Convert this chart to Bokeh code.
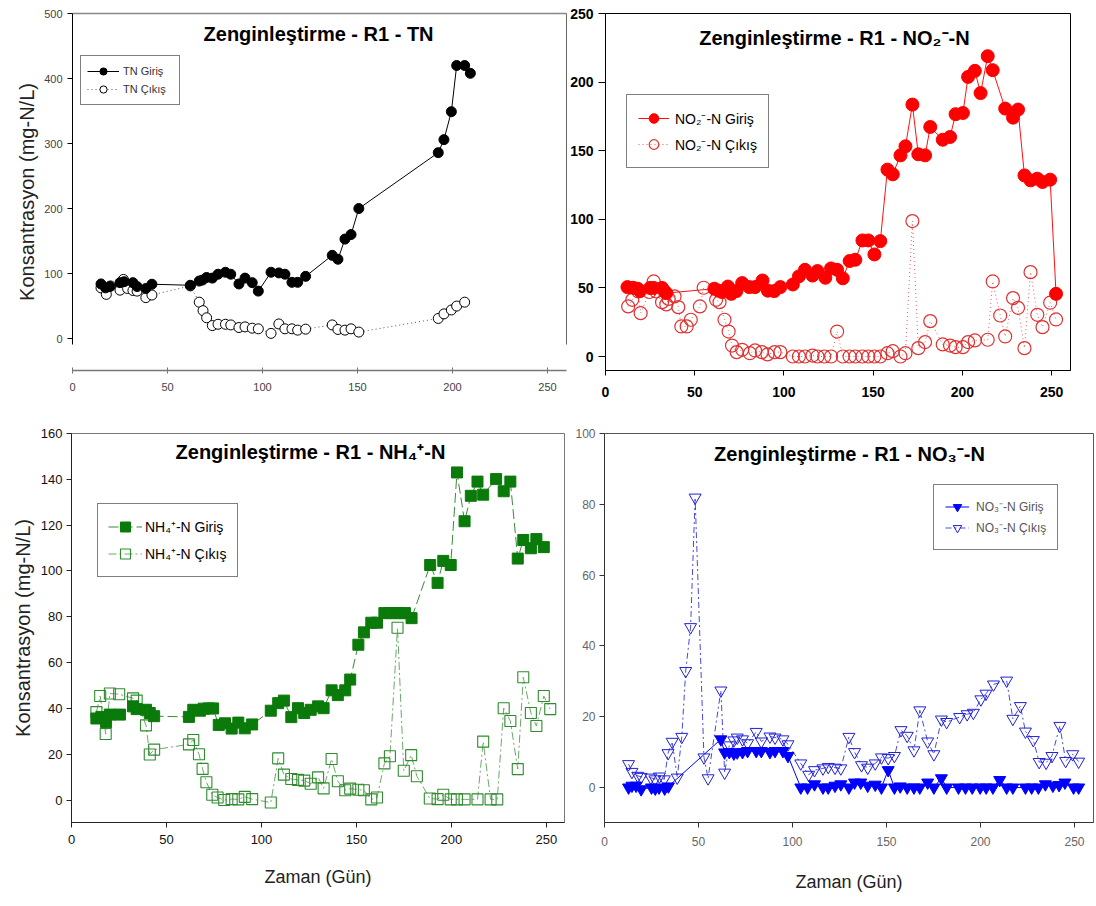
import numpy as np
from bokeh.plotting import figure
from bokeh.layouts import column, row
from bokeh.models import Range1d, LinearAxis, Label, Legend, LegendItem, FixedTicker, Title
from bokeh.embed import file_html
from bokeh.resources import INLINE

# ---------------- data ----------------
# TN
tn_in_x = [15, 17.4, 19.7, 25, 27.2, 31.8, 34, 38.6, 41.8, 62, 66.7, 68.4, 70.6, 73.6, 76.6, 80.5, 83.3,
           87.6, 90.8, 94.6, 97.8, 104.5, 108.6, 111.8, 115.5, 118.5, 122.7, 136.7, 139.7, 143.4, 146.6,
           150.7, 192.5, 195.5, 199.4, 202.2, 206.4, 209.4]
tn_in_y = [84, 78, 80, 86, 87.5, 86, 80, 77, 83.6, 82, 88.5, 90, 94, 93, 99, 102, 99,
           84, 93, 86, 73, 102, 101, 99, 86.5, 86.5, 95.7, 128, 122, 153, 160,
           200, 286, 306, 349, 420, 420, 408]
tn_out_x = [15, 17.8, 20, 25, 26.8, 29, 31.8, 34, 38.6, 41.8, 62, 66.7, 68.7, 70.6, 73.6, 76.6, 80.5,
            83.3, 87.6, 90.8, 94.6, 97.8, 104.5, 108.6, 111.8, 115.5, 118.5, 122.7, 136.7, 139.7,
            143.4, 146.6, 150.7, 192.5, 195.5, 199.4, 202.2, 206.4]
tn_out_y = [78, 68, 81, 74.5, 91, 77, 74, 73, 63, 67, 81, 56, 43, 32, 20, 22, 22,
            21, 17, 18, 16, 15, 8, 22.5, 15, 15, 13, 14.5, 21, 14,
            13, 15, 10, 31, 38, 44, 50, 56]

# NO2-N
no2_in_x = [12.3, 15.5, 18, 19.3, 25, 27, 31.7, 33, 34.1, 61, 63.3, 65.2, 68.6, 70.5, 73.4, 76.6, 80.6,
            83.8, 88, 91, 94.6, 98, 105, 108.4, 111.8, 116, 118.8, 123.2, 126.4, 129.8, 133, 136.8,
            140, 144, 147.3, 150.7, 154, 158, 161, 165.3, 168.1, 172, 175.3, 179.1, 182, 189, 193.1,
            196.2, 200.3, 203.2, 207, 210.2, 214.2, 217, 224, 228.4, 231.2, 234.8, 238.2, 242,
            244.9, 249.2, 252.5]
no2_in_y = [50.6, 50.1, 49.4, 47.7, 50, 50, 50, 47.7, 46.2, 49.4, 48, 47, 51, 45.7, 47.7, 53.5, 50.6,
            50.6, 55.4, 48, 47.7, 50.6, 52.5, 58.4, 63.2, 59, 62.3, 57.4, 64.2, 63.2, 57, 69.6,
            70.5, 84.6, 84.6, 74.4, 84.1, 136.2, 132.8, 146.6, 153.2, 183.6, 147.4, 146.6, 167.3, 158, 160,
            176.6, 177.5, 203.8, 208.2, 192, 218.9, 208.7, 180.7, 174.1, 180, 132, 128.4, 129.6,
            127.2, 128.9, 45.7]
no2_out_x = [12.7, 15, 18.4, 19.7, 24.6, 27, 28.4, 31.7, 34.1, 35.4, 38.7, 40.8, 42.5, 45.5, 47.8, 52.9,
             55, 62, 63.9, 66.7, 69, 70.9, 73.5, 76.6, 80.9, 83.8, 87.6, 90.8, 94.8, 98, 105, 108.4,
             111.8, 116, 118.8, 122.6, 126.4, 129.8, 133, 136.8, 140, 144, 147.3, 150.7, 154, 158,
             161, 165.3, 168.1, 172, 175.3, 179.1, 182, 189, 193.1, 196.2, 200.3, 203.2, 207, 214.2,
             217, 221.2, 224, 228.4, 231.2, 234.8, 238.2, 242, 244.9, 249.2, 252.5]
no2_out_y = [36.5, 41.3, 47.4, 31.6, 47, 54.7, 47.4, 39.6, 38, 42, 43.8, 36, 21.9, 21.9, 26.8, 36.5,
             50.1, 41.3, 39.6, 26.8, 18.2, 8, 3.2, 4.9, 2.4, 4.4, 3.2, 1.5, 3.2, 3.2, 0, 0,
             0, 0.7, 0, 0, 0, 18.2, 0, 0, 0, 0, 0, 0, 0, 2.4,
             3.9, 0, 2.4, 98.7, 6.1, 10.5, 25.8, 8.8, 8, 6.8, 6.8, 10.5, 11.7, 12.2,
             54.7, 29.9, 14.6, 42.6, 35.5, 6.1, 61.5, 30.4, 21.4, 39.2, 27]

# NH4+-N
nh4_in_x = [13.1, 15.7, 18.2, 20.2, 25.5, 32.4, 34.3, 39.2, 41.2, 43.5, 61.8, 64.1, 67.6, 69.6, 72.2,
            74.5, 77.5, 80.8, 84.3, 87.8, 91.2, 95.1, 104.9, 108.8, 111.8, 115.7, 119.2, 122.5,
            125.9, 129.8, 132.7, 136.9, 140.2, 144.1, 146.7, 151, 153.9, 157.8, 160.8, 164.7,
            167.6, 170.6, 173.1, 175.5, 179, 188.8, 192.7, 195.7, 199.6, 202.9, 206.9, 210.2,
            213.7, 216.7, 223.5, 227.5, 231, 234.9, 237.8, 241.8, 244.7, 248.6]
nh4_in_y = [35.6, 36.3, 34, 37.3, 37.3, 40.9, 39.7, 39.4, 38, 36.6, 36.3, 39.4, 39, 39.9, 40,
            40, 32.8, 33.5, 31.2, 33.8, 31.3, 33, 39, 42.3, 43.4, 36.2, 40.1, 38,
            39.4, 40.9, 40.1, 47.9, 45.8, 47.9, 52.6, 67.8, 73.2, 77.4, 77.4, 81.6,
            81.6, 81.6, 81.6, 81.6, 79.4, 102.6, 94.8, 104.4, 102.6, 143, 121.7, 132.8,
            139, 133.3, 140.1, 134.8, 139, 105.4, 113.5, 109.9, 113.9, 110.4]
nh4_out_x = [13.1, 15.1, 18, 20.2, 25.1, 32.4, 34.3, 39.2, 41.2, 43.5, 61.8, 64.1, 67.1, 69, 71,
             74.1, 76.9, 80.4, 84.3, 87.8, 91.2, 95.1, 104.9, 108.8, 111.8, 115.7, 119.2, 122.5,
             125.9, 129.8, 132.7, 136.9, 140.2, 144.1, 146.7, 151, 153.9, 157.8, 160.8, 164.7,
             167.6, 171.6, 174.9, 178.8, 181.8, 188.6, 192.7, 195.7, 199.6, 202.9, 206.9, 213.7,
             216.7, 220.6, 224.1, 227.5, 231, 234.9, 237.8, 241.8, 244.7, 248.6, 252]
nh4_out_y = [38.4, 45.4, 28.8, 46.5, 46.2, 44.4, 43.4, 32.6, 19.9, 22, 24.3, 26.2, 20, 13.6, 7.8,
             2.3, 1.1, 0, 0.4, 0.3, 1.4, 0.4, -1.1, 18.2, 11.1, 9.2, 8.8, 8.5,
             7.1, 9.9, 5.1, 17.9, 8.2, 4.3, 5, 4.5, 4.3, 0.3, 1.1, 16,
             19.1, 75.2, 12.8, 19.6, 10.4, 0.7, 0.4, 2.3, 0.3, 0.3, 0.3, 0.3,
             25.5, 0.3, 0.3, 40.1, 34.5, 13.5, 53.6, 38, 32.3, 45.4, 39.7]

# NO3-N
no3_in_x = [12.8, 14.6, 16.8, 19.5, 25, 27, 29, 32, 34, 61.9, 63.9, 66.4, 68.8, 70.6, 73.4, 76.1,
            80.7, 83.4, 88, 90.7, 94.9, 97.6, 104.4, 108, 111.7, 116.2, 119, 122.6, 125.7, 130,
            133, 136.3, 140, 144, 147.3, 150.9, 154.2, 157.3, 161, 164.6, 167.7, 171.9, 175.2,
            179.2, 182, 188.3, 192, 195.6, 199.8, 203, 206.6, 210.2, 213.9, 217.2, 223.9, 227.2,
            230.8, 234.5, 238.5, 241.8, 244.9, 249.5, 252.2]
no3_in_y = [0, 0.5, 0.5, -0.5, 0, -0.3, 0, -0.3, 0.3, 13.6, 9.9, 10, 9.6, 9.9, 10, 10.3,
            10.3, 10.3, 10, 10.3, 10.3, 8.9, 0, 0, 0.9, 0, 0, 0.5, 0.9, 0,
            1.4, 1.4, 0.5, 0.8, 0, 4.9, 0, 0.3, 0, 0, 0, 1.4, 0,
            2.6, 0, 0, 0, 0, 0, 0, 0, 2.1, 0, 0, 0, 0,
            0, 0.9, 0.5, 0.7, 1.4, 0, 0]
no3_out_x = [12.8, 14.6, 17.7, 19.5, 24.6, 26.8, 29.2, 31.8, 33.8, 36, 38.7, 41.1, 43.2, 45.8, 48.2,
             52.9, 55.1, 61.9, 63.9, 66.4, 68.8, 70.6, 73.4, 76.1, 80.7, 83.4, 88, 90.7, 94.9,
             97.6, 104.4, 108.6, 111.7, 116.2, 119, 122.6, 125.7, 130, 133, 136.7, 140, 144,
             147.3, 150.9, 154.2, 157.7, 161, 164.6, 167.7, 171.9, 175.2, 179.2, 182, 188.9,
             192.9, 196.2, 200.2, 202.9, 206.9, 213.9, 217.2, 221.2, 223.9, 228.1, 231.2, 234.9,
             238, 242.2, 245.3, 249, 252.2]
no3_out_y = [6.6, 4.4, 3.3, 3, 2.8, 2.3, 3.1, 2.3, 9.7, 12.9, 2.8, 14.3, 32.9, 45.3, 81.9,
             8.5, 2.6, 27.4, 4.2, 11.9, 13.3, 14.1, 13.6, 12.5, 15.7, 13, 14.4, 14.1, 13.6,
             12.2, 6.8, 3.6, 4.9, 5.4, 5.8, 5.6, 5.4, 14.3, 10, 6.3, 5.6, 6.8,
             8.5, 8.3, 8.9, 16.2, 14.6, 10.5, 21.8, 13, 9.4, 19.2, 18.5, 19.9,
             20.7, 21.1, 24.9, 26.5, 29.1, 30.2, 19.4, 23, 15.8, 13.4, 7.2, 7,
             8.9, 17.4, 7.5, 9.4, 7.3]

FONT = "Liberation Sans"


def base_fig(w, h, xr, yr, bl, br, bt, bb):
    p = figure(width=w, height=h, x_range=Range1d(*xr), y_range=Range1d(*yr),
               output_backend="svg", toolbar_location=None,
               min_border_left=bl, min_border_right=br, min_border_top=bt, min_border_bottom=bb,
               background_fill_color="white", border_fill_color="white")
    p.grid.visible = False
    return p


def style_axis(ax, ticks, fsize, color, bold=False, tick_out=5, tick_in=0, standoff=5,
               line_color="black", line_width=1):
    ax.ticker = FixedTicker(ticks=ticks)
    ax.minor_tick_line_color = None
    ax.major_tick_out = tick_out
    ax.major_tick_in = tick_in
    ax.major_tick_line_color = line_color
    ax.axis_line_color = line_color
    ax.axis_line_width = line_width
    ax.major_label_text_font = FONT
    ax.major_label_text_font_size = fsize
    ax.major_label_text_color = color
    ax.major_label_text_font_style = "bold" if bold else "normal"
    ax.major_label_standoff = standoff


def bare_axis(loc_fig, where, bounds, color, width=1):
    kw = dict(ticker=FixedTicker(ticks=[]), axis_line_color=color, axis_line_width=width,
              major_tick_line_color=None, minor_tick_line_color=None,
              major_label_text_font_size="0px")
    if bounds is not None:
        kw["bounds"] = bounds
    ax = LinearAxis(**kw)
    loc_fig.add_layout(ax, where)


def add_legend(p, items, loc, pad, gw, gh, stand, lw, spacing, fsize, fcolor):
    lg = Legend(items=items, location=loc, padding=pad, glyph_width=gw, glyph_height=gh,
                label_standoff=stand, label_width=lw, label_height=gh, spacing=spacing, margin=0,
                label_text_font=FONT, label_text_font_size=fsize, label_text_color=fcolor,
                border_line_color="black", border_line_width=1,
                background_fill_color="white", background_fill_alpha=1.0)
    p.add_layout(lg)


def title(p, x, y, text, size="20px"):
    p.add_layout(Label(x=x, y=y, text=text, text_font=FONT, text_font_size=size,
                       text_font_style="bold", text_align="center", text_baseline="middle",
                       text_color="black"))


# ---------------- Panel 1 : TN ----------------
p1 = base_fig(567, 420, (0, 260), (-49.1, 500), 72, 1, 11, 29)
p1.outline_line_color = None
style_axis(p1.yaxis[0], [0, 100, 200, 300, 400, 500], "11px", "#444", tick_out=5, standoff=5)
p1.yaxis[0].bounds = (-8.7, 500)
style_axis(p1.xaxis[0], [0, 50, 100, 150, 200, 250], "11px", "#444", tick_out=3, tick_in=3,
           standoff=9, line_color="#777", line_width=1.5)
bare_axis(p1, "right", (-8.7, 500), "#666", 1)
bare_axis(p1, "above", None, "#888", 1.5)

r1a = p1.line(tn_out_x, tn_out_y, line_color="#555", line_width=1, line_dash="1 3")
r1b = p1.scatter(tn_out_x, tn_out_y, marker="circle", size=10, fill_color="white",
                 line_color="black", line_width=1)
r1c = p1.line(tn_in_x, tn_in_y, line_color="black", line_width=1)
r1d = p1.scatter(tn_in_x, tn_in_y, marker="circle", size=10, fill_color="black", line_color="black")
add_legend(p1, [LegendItem(label="TN Giriş", renderers=[r1c, r1d]),
                LegendItem(label="TN Çıkış", renderers=[r1a, r1b])],
           (8, 265), 6, 32, 18, 4, 50, 0, "11px", "#333")
title(p1, 129.5, 468.2, "Zenginleştirme - R1 - TN")
p1.add_layout(Title(text="Konsantrasyon (mg-N/L)", align="center", offset=15, standoff=8,
                    text_font=FONT, text_font_size="20px", text_font_style="normal",
                    text_color="#222"), "left")

# ---------------- Panel 2 : NO2-N ----------------
p2 = base_fig(529, 420, (0, 260.6), (-10.2, 250), 34, 26, 13, 50)
p2.outline_line_color = "black"
p2.outline_line_width = 1
style_axis(p2.yaxis[0], [0, 50, 100, 150, 200, 250], "14px", "black", bold=True, tick_out=7, standoff=5)
style_axis(p2.xaxis[0], [0, 50, 100, 150, 200, 250], "14px", "black", bold=True, tick_out=5, standoff=11)

r2a = p2.line(no2_out_x, no2_out_y, line_color="#e06060", line_width=1, line_dash="1 3")
r2b = p2.scatter(no2_out_x, no2_out_y, marker="circle", size=13, fill_color=None,
                 line_color="#e03030", line_width=1.2)
r2c = p2.line(no2_in_x, no2_in_y, line_color="#ff1010", line_width=1)
r2d = p2.scatter(no2_in_x, no2_in_y, marker="circle", size=13, fill_color="#ff0000", line_color="#ff0000")
add_legend(p2, [LegendItem(label="NO₂⁻-N Giriş", renderers=[r2c, r2d]),
                LegendItem(label="NO₂⁻-N Çıkış", renderers=[r2a, r2b])],
           (21, 202), 11, 31, 24, 6, 72, 2, "14px", "black")
title(p2, 128.3, 232.5, "Zenginleştirme - R1 - NO₂⁻-N")

# ---------------- Panel 3 : NH4+-N ----------------
p3 = base_fig(567, 486, (0, 259.5), (-9.8, 160), 71, 3, 13, 74)
p3.outline_line_color = "#777"
p3.outline_line_width = 1
style_axis(p3.yaxis[0], [0, 20, 40, 60, 80, 100, 120, 140, 160], "13px", "#111", tick_out=5, standoff=4,
           line_color="#222")
style_axis(p3.xaxis[0], [0, 50, 100, 150, 200, 250], "13px", "#111", tick_out=5, standoff=7,
           line_color="#222")
p3.yaxis[0].axis_label = "Konsantrasyon (mg-N/L)"
p3.yaxis[0].axis_label_text_font = FONT
p3.yaxis[0].axis_label_text_font_size = "20px"
p3.yaxis[0].axis_label_text_font_style = "normal"
p3.yaxis[0].axis_label_text_color = "#222"
p3.yaxis[0].axis_label_standoff = 4
p3.xaxis[0].axis_label = "Zaman (Gün)"
p3.xaxis[0].axis_label_text_font = FONT
p3.xaxis[0].axis_label_text_font_size = "18px"
p3.xaxis[0].axis_label_text_font_style = "normal"
p3.xaxis[0].axis_label_text_color = "#222"
p3.xaxis[0].axis_label_standoff = 20

r3a = p3.line(nh4_out_x, nh4_out_y, line_color="#6aaa6a", line_width=1, line_dash="8 3 2 3")
r3b = p3.scatter(nh4_out_x, nh4_out_y, marker="square", size=11, fill_color=None,
                 line_color="#2e8b2e", line_width=1.1)
r3c = p3.line(nh4_in_x, nh4_in_y, line_color="#3a8a3a", line_width=1, line_dash="10 4")
r3d = p3.scatter(nh4_in_x, nh4_in_y, marker="square", size=11, fill_color="#0a7a0a", line_color="#0a7a0a")
add_legend(p3, [LegendItem(label="NH₄⁺-N Giriş", renderers=[r3c, r3d]),
                LegendItem(label="NH₄⁺-N Çıkış", renderers=[r3a, r3b])],
           (26, 245), 10, 34, 25, 3, 80, 2, "14px", "black")
title(p3, 125.8, 151.9, "Zenginleştirme - R1 - NH₄⁺-N")

# ---------------- Panel 4 : NO3-N ----------------
p4 = base_fig(529, 486, (0, 260.1), (-9.9, 100), 37, 3, 12, 84)
p4.outline_line_color = "#555"
p4.outline_line_width = 1
style_axis(p4.yaxis[0], [0, 20, 40, 60, 80, 100], "12px", "#666", tick_out=5, standoff=4, line_color="#333")
style_axis(p4.xaxis[0], [0, 50, 100, 150, 200, 250], "12px", "#666", tick_out=5, standoff=9, line_color="#333")
p4.xaxis[0].axis_label = "Zaman (Gün)"
p4.xaxis[0].axis_label_text_font = FONT
p4.xaxis[0].axis_label_text_font_size = "18px"
p4.xaxis[0].axis_label_text_font_style = "normal"
p4.xaxis[0].axis_label_text_color = "#222"
p4.xaxis[0].axis_label_standoff = 23

r4a = p4.line(no3_out_x, no3_out_y, line_color="#4848e0", line_width=1, line_dash="6 3 2 3")
r4b = p4.scatter(no3_out_x, no3_out_y, marker="inverted_triangle", size=12, fill_color=None,
                 line_color="#2020d8", line_width=1)
r4c = p4.line(no3_in_x, no3_in_y, line_color="#0000ff", line_width=1)
r4d = p4.scatter(no3_in_x, no3_in_y, marker="inverted_triangle", size=12, fill_color="#0000ff",
                 line_color="#0000ff")
add_legend(p4, [LegendItem(label="NO₃⁻-N Giriş", renderers=[r4c, r4d]),
                LegendItem(label="NO₃⁻-N Çıkış", renderers=[r4a, r4b])],
           (329, 272), 11, 24, 21, 7, 67, 0, "12px", "#555")
title(p4, 130.3, 94.1, "Zenginleştirme - R1 - NO₃⁻-N")

layout = column(row(p1, p2), row(p3, p4))
open("out.html", "w").write(file_html(layout, INLINE))
